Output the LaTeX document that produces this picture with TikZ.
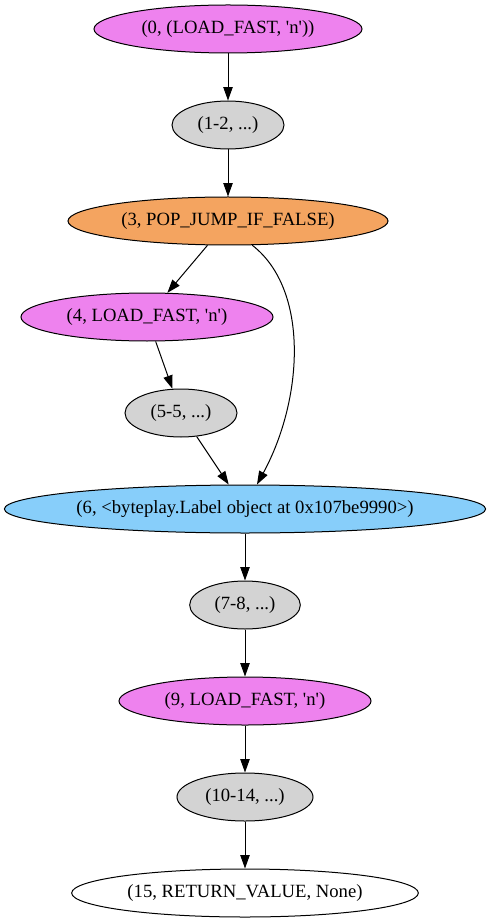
\documentclass[tikz,border=0pt]{standalone}
\usepackage{fontspec}
\setmainfont{Liberation Serif}
\usetikzlibrary{shapes.geometric,arrows.meta,calc}
\definecolor{gvviolet}{HTML}{EE82EE}
\definecolor{gvgray}{HTML}{D3D3D3}
\definecolor{gvsandy}{HTML}{F4A460}
\definecolor{gvsky}{HTML}{87CEFA}
\newcommand{\sq}{\textquotesingle}
\begin{document}
\begin{tikzpicture}[x=0.75pt,y=-0.75pt,
  gvnode/.style={ellipse,draw=black,line width=0.75pt,inner sep=0pt,minimum height=36pt,
    font=\fontsize{14pt}{16pt}\selectfont},
  vio/.style={gvnode,fill=gvviolet},
  gry/.style={gvnode,fill=gvgray},
  sandy/.style={gvnode,fill=gvsandy},
  sky/.style={gvnode,fill=gvsky},
  wht/.style={gvnode,fill=white},
  edge/.style={draw=black,line width=0.75pt,-{Triangle[length=10pt,width=7pt]}}]
\useasboundingbox (0,0) rectangle (491,923);
\node[vio,minimum width=201pt] (n0) at (228,29) {(0, (LOAD\_FAST, \sq n\sq))};
\node[gry,minimum width=84pt] (n1) at (228,125) {(1-2, ...)};
\node[sandy,minimum width=240pt] (n2) at (228,221) {(3, POP\_JUMP\_IF\_FALSE)};
\node[vio,minimum width=189pt] (n3) at (147,317) {(4, LOAD\_FAST, \sq n\sq)};
\node[gry,minimum width=84pt] (n4) at (181,413) {(5-5, ...)};
\node[sky,minimum width=361pt] (n5) at (245,509) {(6, <byteplay.Label object at 0x107be9990>)};
\node[gry,minimum width=83pt] (n6) at (245,605) {(7-8, ...)};
\node[vio,minimum width=189pt] (n7) at (245,701) {(9, LOAD\_FAST, \sq n\sq)};
\node[gry,minimum width=102pt] (n8) at (245,797) {(10-14, ...)};
\node[wht,minimum width=260pt] (n9) at (245,893) {(15, RETURN\_VALUE, None)};
\coordinate (c6) at ($(n5.north)+(12,0)$);
\draw[edge] (n0) -- (n1);
\draw[edge] (n1) -- (n2);
\draw[edge] (n2) -- (n3);
\draw[edge] (n3) -- (n4);
\draw[edge] (n4) -- (n5);
\draw[edge] (n2.-45) .. controls (310,290) and (303,400) .. (c6);
\draw[edge] (n5) -- (n6);
\draw[edge] (n6) -- (n7);
\draw[edge] (n7) -- (n8);
\draw[edge] (n8) -- (n9);
\end{tikzpicture}
\end{document}
